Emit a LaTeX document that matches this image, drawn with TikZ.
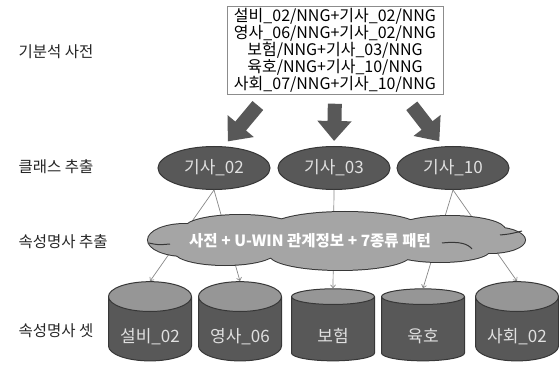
\documentclass[tikz,border=0pt]{standalone}
\usepackage{fontspec}
\setmainfont{Noto Sans CJK KR}
\usetikzlibrary{shapes.geometric,arrows.meta}
\definecolor{shapegray}{RGB}{88,88,88}
\definecolor{edgegray}{RGB}{55,55,55}
\definecolor{capgray}{RGB}{150,150,150}
\definecolor{cloudgray}{RGB}{165,165,165}
\definecolor{linkgray}{RGB}{135,135,135}

\begin{document}
\begin{tikzpicture}[x=1pt,y=1pt,every node/.style={font=\fontsize{15.5}{17}\selectfont},
    stage/.style={anchor=west,text=black!85},
    cls/.style={ellipse,draw=edgegray,line width=1pt,fill=shapegray,text=white!88!black,font=\fontsize{17}{17}\selectfont,minimum width=112pt,minimum height=43pt,inner sep=0pt},
    db/.style={cylinder,shape border rotate=90,draw=edgegray,line width=1pt,cylinder uses custom fill,cylinder body fill=shapegray,cylinder end fill=capgray,minimum width=83pt,minimum height=72pt,aspect=0.5,inner sep=0pt,text height=30pt,text depth=4pt,text=white!88!black,font=\fontsize{17}{17}\selectfont},
    fatarrow/.style={line width=14pt,draw=shapegray,-{Triangle[length=20pt,width=33pt]}},
    link/.style={draw=linkgray,line width=0.7pt,-{Straight Barb[length=3pt,width=5pt]}}]
                \useasboundingbox (0,0) rectangle (559,367);

                \node[draw=black!45,align=center,minimum width=216pt,minimum height=85pt,inner sep=2pt,font=\fontsize{16}{17}\selectfont] (dict) at (335,316.5)
                    {설비\_02/NNG+기사\_02/NNG\\영사\_06/NNG+기사\_02/NNG\\보험/NNG+기사\_03/NNG\\육호/NNG+기사\_10/NNG\\사회\_07/NNG+기사\_10/NNG};

                \node[stage] (s1) at (15,315) {기분석 사전};
                \node[stage] (s2) at (15,200) {클래스 추출};
                \node[stage] (s3) at (15,125) {속성명사 추출};
                \node[stage] (s4) at (15,36) {속성명사 셋};

                \node[cls] (k02) at (214,199) {기사\_02};
                \node[cls] (k03) at (334,199) {기사\_03};
                \node[cls] (k10) at (453,199) {기사\_10};

                \draw[fatarrow,shorten <=14pt,shorten >=6pt] ([xshift=40pt]dict.south west) -- ([xshift=10pt]k02.north);
                \draw[fatarrow,shorten <=9pt,shorten >=5pt] (dict.south) -- (k03.north);
                \draw[fatarrow,shorten <=14pt,shorten >=6pt] ([xshift=-40pt]dict.south east) -- ([xshift=-10pt]k10.north);

                \node[db] (d1) at (150,38) {설비\_02};
                \node[db] (d2) at (240,38) {영사\_06};
                \node[db] (d3) at (333,38) {보험};
                \node[db] (d4) at (423,38) {육호};
                \node[db] (d5) at (517,38) {사회\_02};

                \draw[link] (k02.south) -- (d1.north);
                \draw[link] (k02.south) -- (d2.north);
                \draw[link] (k03.south) -- (d3.north);
                \draw[link] (k10.south) -- (d4.north);
                \draw[link] (k10.south) -- (d5.north);

                % cloud: outline of the puffs, then the fill over it
                \foreach \cx/\cy/\rx/\ry in {185/127/37/16,240/139/55/13,345/139/75/16,450/137/55/14,490/127/35/13,225/115/50/13,340/112/70/15,440/117/50/12,338/126/170/18}
                    \draw[edgegray,line width=2pt] (\cx,\cy) ellipse [x radius=\rx,y radius=\ry];
                \foreach \cx/\cy/\rx/\ry in {185/127/37/16,240/139/55/13,345/139/75/16,450/137/55/14,490/127/35/13,225/115/50/13,340/112/70/15,440/117/50/12,338/126/170/18}
                    \fill[cloudgray] (\cx,\cy) ellipse [x radius=\rx,y radius=\ry];
                \draw[edgegray,line width=1pt] (149,124) .. controls (158,122) .. (170,123);
                \draw[edgegray,line width=1pt] (442,124) .. controls (460,126) and (468,123) .. (472,118);
                \draw[edgegray,line width=1pt] (500,132) .. controls (510,133) .. (522,136);
                \node[text=white,font=\fontsize{15.5}{15}\selectfont\bfseries] (rule) at (310,126) {사전 + U-WIN 관계정보 + 7종류 패턴};
            \end{tikzpicture}
\end{document}
